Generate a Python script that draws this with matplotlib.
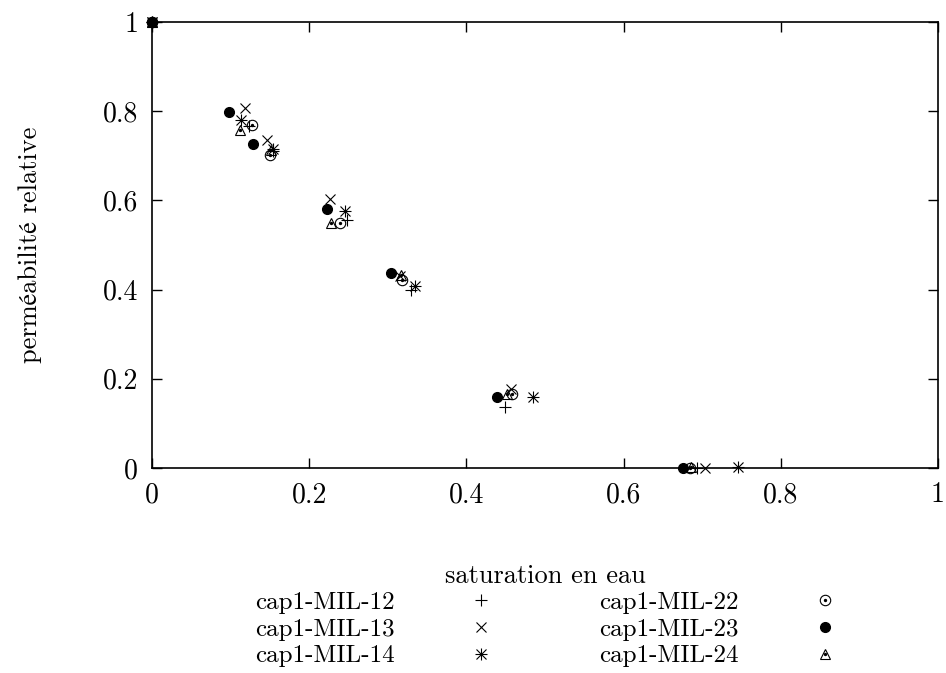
import numpy as np
import matplotlib
matplotlib.use('Agg')
import matplotlib.pyplot as plt
from matplotlib.ticker import FuncFormatter

plt.rcParams['font.family'] = ['cmr10', 'STIXGeneral']
plt.rcParams['mathtext.fontset'] = 'cm'
plt.rcParams['axes.unicode_minus'] = False

# valeurs
labels = ['cap1-MIL-12', 'cap1-MIL-13', 'cap1-MIL-14',
          'cap1-MIL-22', 'cap1-MIL-23', 'cap1-MIL-24']
x12 = [0, 0.123, 0.154, 0.248, 0.330, 0.449, 0.693]
y12 = [1, 0.766, 0.710, 0.557, 0.400, 0.137, 0]
x13 = [0, 0.118, 0.146, 0.226, 0.316, 0.457, 0.704]
y13 = [1, 0.807, 0.736, 0.603, 0.430, 0.177, 0]
x14 = [0, 0.113, 0.154, 0.245, 0.335, 0.485, 0.745]
y14 = [1, 0.780, 0.716, 0.577, 0.407, 0.159, 0.002]
x22 = [0, 0.127, 0.150, 0.239, 0.318, 0.458, 0.684]
y22 = [1, 0.770, 0.702, 0.550, 0.421, 0.165, 0]
x23 = [0, 0.098, 0.129, 0.222, 0.304, 0.439, 0.675]
y23 = [1, 0.798, 0.726, 0.580, 0.437, 0.159, 0]
x24 = [0, 0.112, 0.151, 0.228, 0.317, 0.452, 0.686]
y24 = [1, 0.758, 0.714, 0.550, 0.433, 0.165, 0.003]

fs = 19
fig = plt.figure(figsize=(9.46, 6.73), dpi=100)
ax = fig.add_axes([0.1607, 0.3046, 0.8308, 0.6627])

k = dict(linestyle='none', color='black', clip_on=False)
dot = dict(linestyle='none', color='black', marker='o', markersize=1.4, clip_on=False)

h12, = ax.plot(x12, y12, marker='+', markersize=8, markeredgewidth=0.8, **k)
h13, = ax.plot(x13, y13, marker='x', markersize=7, markeredgewidth=0.8, **k)
h14a, = ax.plot(x14, y14, marker='+', markersize=8.5, markeredgewidth=0.8, **k)
h14b, = ax.plot(x14, y14, marker='x', markersize=6.5, markeredgewidth=0.8, **k)
h22, = ax.plot(x22, y22, marker='o', markersize=7.5, markerfacecolor='none',
               markeredgewidth=0.8, **k)
h22d, = ax.plot(x22, y22, **dot)
h23, = ax.plot(x23, y23, marker='o', markersize=7, **k)
h24, = ax.plot(x24, y24, marker='^', markersize=7.5, markerfacecolor='none',
               markeredgewidth=0.8, **k)
h24d, = ax.plot(x24, y24, **dot)

ax.set_xlim(0, 1)
ax.set_ylim(0, 1)
ax.set_xticks(np.arange(0, 1.01, 0.2))
ax.set_yticks(np.arange(0, 1.01, 0.2))
fmt = FuncFormatter(lambda v, p: '%g' % round(v, 2))
ax.xaxis.set_major_formatter(fmt)
ax.yaxis.set_major_formatter(fmt)
ax.tick_params(direction='in', length=7, width=1, top=True, right=True,
               labelsize=fs + 1, pad=10)
for s in ax.spines.values():
    s.set_linewidth(1.2)

ax.set_xlabel('saturation en eau', fontsize=fs, labelpad=40)
ax.set_ylabel('perméabilité relative', fontsize=fs, labelpad=44)

handles = [h12, h13, (h14a, h14b), (h22, h22d), h23, (h24, h24d)]
fig.legend(handles, labels, loc='upper left', bbox_to_anchor=(0.256, 0.14),
           ncol=2, markerfirst=False, frameon=False, fontsize=fs - 1,
           handletextpad=2.7, handlelength=1.5, labelspacing=0.17,
           columnspacing=4.0, borderpad=0)

fig.savefig('out.png', dpi=100)
